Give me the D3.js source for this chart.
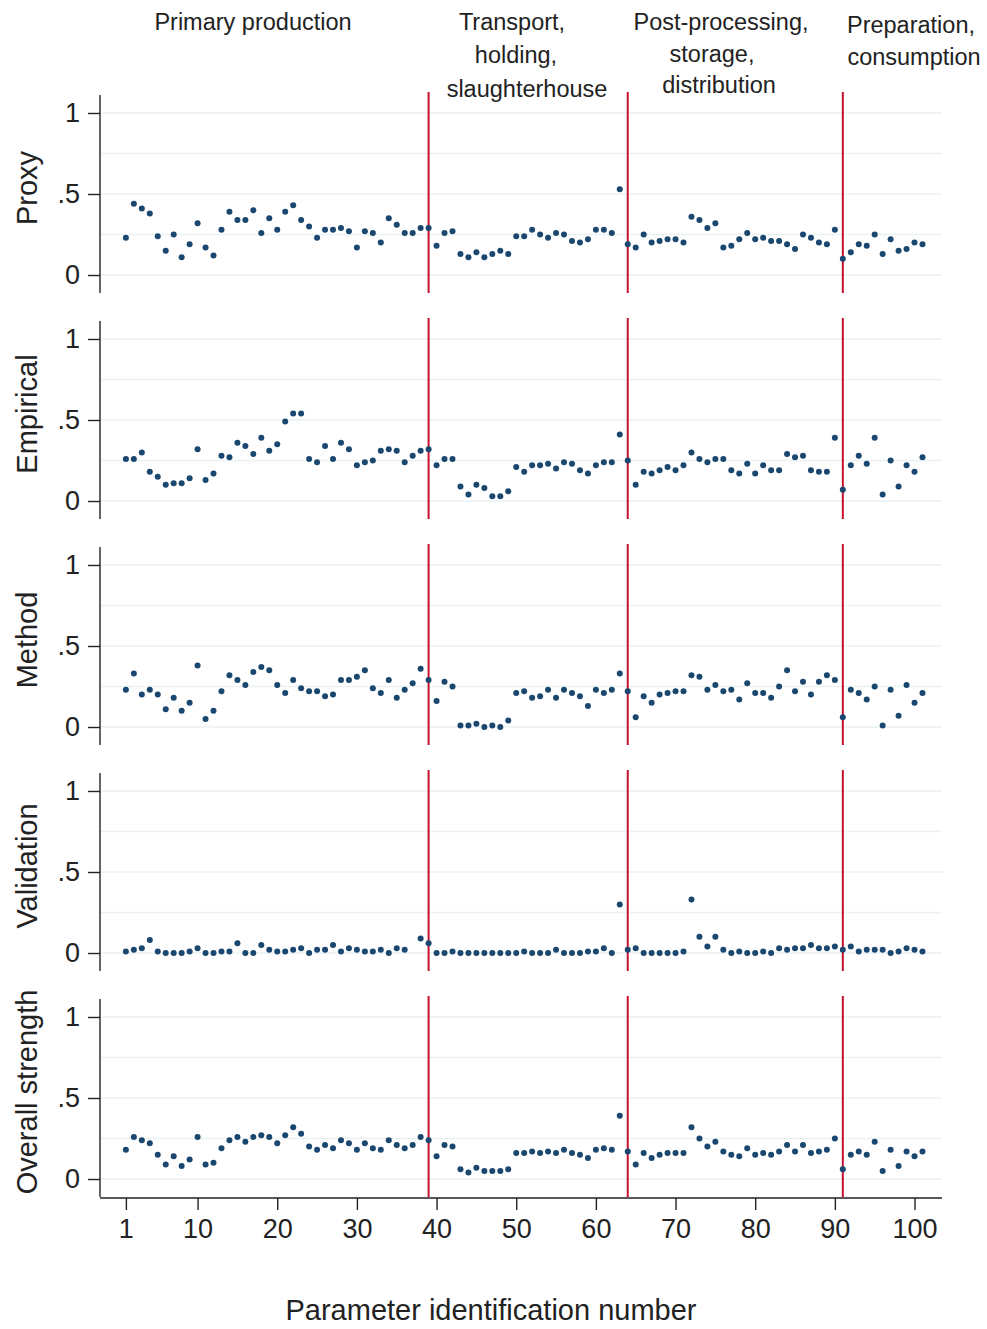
<!DOCTYPE html>
<html>
<head>
<meta charset="utf-8">
<script src="https://cdn.jsdelivr.net/npm/d3@7"></script>
<style>
  body { margin: 0; background: #fff; }
  svg { display: block; font-family: "Liberation Sans", Arial, Helvetica, sans-serif; }
</style>
</head>
<body>
<svg id="chart" width="987" height="1329"></svg>
<script>
// parameter ids 1..101
var params = d3.range(1, 102);

var proxy = [
  0.23,0.44,0.41,0.38,0.24,0.15,0.25,0.11,0.19,0.32,
  0.17,0.12,0.28,0.39,0.34,0.34,0.40,0.26,0.35,0.28,
  0.39,0.43,0.34,0.30,0.23,0.28,0.28,0.29,0.27,0.17,
  0.27,0.26,0.20,0.35,0.31,0.26,0.26,0.29,0.29,0.18,
  0.26,0.27,0.13,0.11,0.14,0.11,0.13,0.15,0.13,0.24,
  0.24,0.28,0.25,0.23,0.26,0.25,0.21,0.20,0.22,0.28,
  0.28,0.26,0.53,0.19,0.17,0.25,0.20,0.21,0.22,0.22,
  0.20,0.36,0.34,0.29,0.32,0.17,0.18,0.22,0.26,0.22,
  0.23,0.21,0.21,0.19,0.16,0.25,0.23,0.20,0.19,0.28,
  0.10,0.14,0.19,0.18,0.25,0.13,0.22,0.15,0.16,0.20,0.19];

var empirical = [
  0.26,0.26,0.30,0.18,0.15,0.10,0.11,0.11,0.14,0.32,
  0.13,0.17,0.28,0.27,0.36,0.34,0.29,0.39,0.31,0.35,
  0.49,0.54,0.54,0.26,0.24,0.34,0.26,0.36,0.32,0.22,
  0.24,0.25,0.31,0.32,0.31,0.24,0.28,0.31,0.32,0.22,
  0.26,0.26,0.09,0.04,0.10,0.08,0.03,0.03,0.06,0.21,
  0.18,0.22,0.22,0.23,0.20,0.24,0.23,0.19,0.17,0.22,
  0.24,0.24,0.41,0.25,0.10,0.18,0.17,0.19,0.21,0.19,
  0.22,0.30,0.26,0.24,0.26,0.26,0.19,0.17,0.23,0.17,
  0.22,0.19,0.19,0.29,0.27,0.28,0.19,0.18,0.18,0.39,
  0.07,0.22,0.28,0.23,0.39,0.04,0.25,0.09,0.22,0.18,0.27];

var method = [
  0.23,0.33,0.20,0.23,0.20,0.11,0.18,0.10,0.15,0.38,
  0.05,0.10,0.22,0.32,0.29,0.26,0.34,0.37,0.35,0.26,
  0.21,0.29,0.24,0.22,0.22,0.19,0.20,0.29,0.29,0.31,
  0.35,0.24,0.21,0.29,0.18,0.23,0.27,0.36,0.29,0.16,
  0.28,0.25,0.01,0.01,0.02,0.00,0.01,0.00,0.04,0.21,
  0.22,0.18,0.19,0.23,0.18,0.23,0.21,0.19,0.13,0.23,
  0.21,0.23,0.33,0.22,0.06,0.19,0.15,0.20,0.21,0.22,
  0.22,0.32,0.31,0.23,0.26,0.22,0.23,0.17,0.27,0.21,
  0.21,0.18,0.25,0.35,0.22,0.28,0.20,0.28,0.32,0.29,
  0.06,0.23,0.21,0.17,0.25,0.01,0.23,0.07,0.26,0.15,0.21];

var validation = [
  0.01,0.02,0.03,0.08,0.01,0.00,0.00,0.00,0.01,0.03,
  0.00,0.00,0.01,0.01,0.06,0.00,0.00,0.05,0.02,0.01,
  0.01,0.02,0.03,0.00,0.02,0.02,0.05,0.01,0.03,0.02,
  0.01,0.01,0.02,0.00,0.03,0.02,null,0.09,0.06,0.00,
  0.00,0.01,0.00,0.00,0.00,0.00,0.00,0.00,0.00,0.00,
  0.01,0.00,0.00,0.00,0.02,0.00,0.00,0.00,0.01,0.01,
  0.03,0.00,0.30,0.02,0.03,0.00,0.00,0.00,0.00,0.00,
  0.01,0.33,0.10,0.04,0.10,0.02,0.00,0.01,0.00,0.00,
  0.01,0.00,0.03,0.02,0.03,0.03,0.05,0.03,0.03,0.04,
  0.02,0.04,0.01,0.02,0.02,0.02,0.00,0.01,0.03,0.02,0.01];

var overall = [
  0.18,0.26,0.24,0.22,0.15,0.09,0.14,0.08,0.12,0.26,
  0.09,0.10,0.19,0.24,0.26,0.23,0.26,0.27,0.26,0.22,
  0.27,0.32,0.28,0.20,0.18,0.21,0.19,0.24,0.22,0.18,
  0.22,0.19,0.18,0.24,0.21,0.19,0.21,0.26,0.24,0.14,
  0.21,0.20,0.06,0.04,0.07,0.05,0.05,0.05,0.06,0.16,
  0.16,0.17,0.16,0.17,0.16,0.18,0.16,0.15,0.13,0.18,
  0.19,0.18,0.39,0.17,0.09,0.16,0.13,0.15,0.16,0.16,
  0.16,0.32,0.25,0.20,0.23,0.17,0.15,0.14,0.19,0.15,
  0.16,0.15,0.17,0.21,0.17,0.21,0.16,0.17,0.18,0.25,
  0.06,0.15,0.17,0.15,0.23,0.05,0.18,0.08,0.17,0.14,0.17];

var panelNames = ["Proxy", "Empirical", "Method", "Validation", "Overall strength"];
var panelSeries = [proxy, empirical, method, validation, overall];

var stageBreaks = [39, 64, 91];
var xTicks = [1, 10, 20, 30, 40, 50, 60, 70, 80, 90, 100];
var yTicks = [0, 0.5, 1];
var yTickLabels = ["0", ".5", "1"];
var gridVals = [0, 0.25, 0.5, 0.75, 1];

// stage headers, one entry per text line
var stageLabels = [
  {text: "Primary production", x: 253, y: 30},
  {text: "Transport,", x: 512, y: 30},
  {text: "holding,", x: 516, y: 63},
  {text: "slaughterhouse", x: 527, y: 97},
  {text: "Post-processing,", x: 721, y: 30},
  {text: "storage,", x: 712, y: 62},
  {text: "distribution", x: 719, y: 93},
  {text: "Preparation,", x: 911, y: 33},
  {text: "consumption", x: 914, y: 65}
];

var svg = d3.select("#chart");

var left = 100, right = 942;
var panelTop = 95, panelH = 198, panelStep = 226;

var navy = "#1a476f", red = "#c8102e", grid = "#eaf2f3", ink = "#222";

var x = d3.scaleLinear().domain([-2.25, 103.45]).range([left, right]);

panelSeries.forEach(function(vals, i) {
  var top = panelTop + i * panelStep;
  var y = d3.scaleLinear().domain([-0.111, 1.111]).range([top + panelH, top]);
  var g = svg.append("g");

  // grid
  g.selectAll("line.grid").data(gridVals).enter().append("line")
    .attr("x1", left).attr("x2", right)
    .attr("y1", d => y(d)).attr("y2", d => y(d))
    .attr("stroke", grid).attr("stroke-width", 1.6);

  // stage separators
  g.selectAll("line.brk").data(stageBreaks).enter().append("line")
    .attr("x1", d => x(d)).attr("x2", d => x(d))
    .attr("y1", top - 3).attr("y2", top + panelH)
    .attr("stroke", red).attr("stroke-width", 2);

  // y axis
  var yAxis = d3.axisLeft(y).tickValues(yTicks)
    .tickFormat((d, k) => yTickLabels[k]).tickSize(12).tickPadding(8);
  var ya = g.append("g").attr("transform", "translate(" + left + ",0)").call(yAxis);
  ya.select(".domain").attr("d", "M0," + top + "V" + (top + panelH)).attr("stroke", ink).attr("stroke-width", 1.4);
  ya.selectAll(".tick line").attr("stroke", ink).attr("stroke-width", 1.4);
  ya.selectAll(".tick text").attr("font-size", 27).attr("fill", ink)
    .attr("font-family", "Liberation Sans, Arial, sans-serif");

  // points
  g.selectAll("circle").data(params.filter((p, k) => vals[k] != null)).enter().append("circle")
    .attr("cx", d => x(d))
    .attr("cy", d => y(vals[d - 1]))
    .attr("r", 3)
    .attr("fill", navy);

  // panel label
  g.append("text")
    .attr("transform", "translate(37," + (top + panelH / 2 - 6) + ") rotate(-90)")
    .attr("text-anchor", "middle")
    .attr("font-size", 29)
    .attr("fill", ink)
    .text(panelNames[i]);
});

// bottom x axis
var axisY = panelTop + 4 * panelStep + panelH + 1;
var xAxis = d3.axisBottom(x).tickValues(xTicks).tickSize(12).tickPadding(9);
var xa = svg.append("g").attr("transform", "translate(0," + axisY + ")").call(xAxis);
xa.select(".domain").attr("d", "M" + left + ",0H" + right).attr("stroke", ink).attr("stroke-width", 1.4);
xa.selectAll(".tick line").attr("stroke", ink).attr("stroke-width", 1.4);
xa.selectAll(".tick text").attr("font-size", 27).attr("fill", ink)
  .attr("font-family", "Liberation Sans, Arial, sans-serif");

svg.append("text")
  .attr("x", 491)
  .attr("y", 1320)
  .attr("text-anchor", "middle")
  .attr("font-size", 29)
  .attr("fill", ink)
  .text("Parameter identification number");

svg.selectAll("text.stage").data(stageLabels).enter().append("text")
  .attr("class", "stage")
  .attr("x", d => d.x).attr("y", d => d.y)
  .attr("text-anchor", "middle")
  .attr("font-size", 23.5)
  .attr("fill", ink)
  .text(d => d.text);
</script>
</body>
</html>
